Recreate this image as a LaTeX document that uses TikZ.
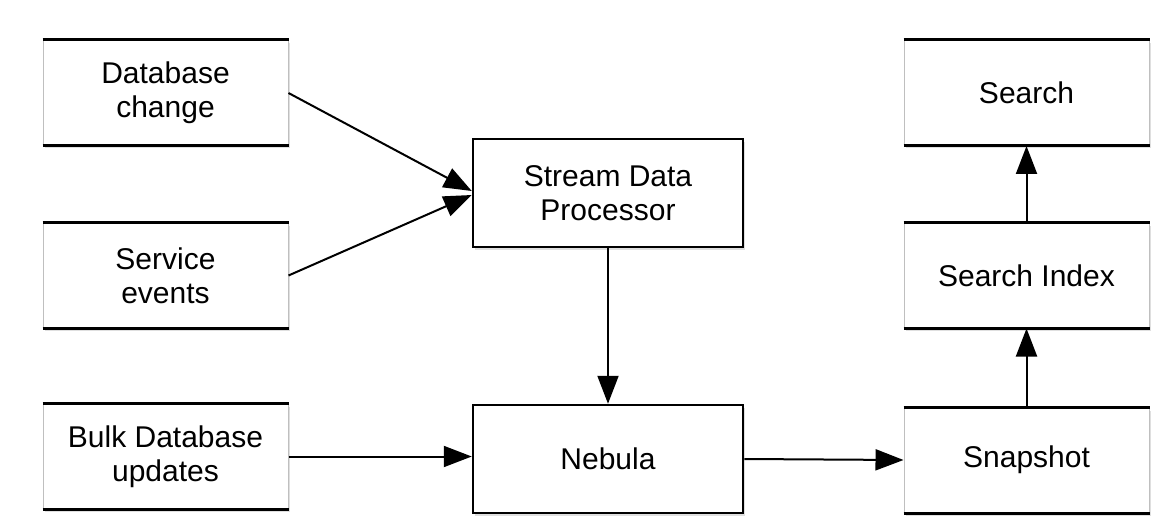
\documentclass[tikz,border=0pt]{standalone}
\usepackage{fontspec}
\setmainfont{Liberation Sans}
\usetikzlibrary{arrows.meta,shadows}
\begin{document}
\begin{tikzpicture}[x=0.5pt, y=-0.5pt,
    >={Triangle[length=14pt, width=10.5pt]},
    main node/.style={rectangle, draw, line width=1.25pt, fill=white, minimum width=135pt, minimum height=54pt, align=center,
      drop shadow={shadow xshift=1pt, shadow yshift=-1.5pt, opacity=0.25}},
    store node/.style={rectangle, draw=black!25, line width=0.5pt, fill=white, minimum width=122.5pt, minimum height=52.5pt, align=center,
      drop shadow={shadow xshift=1pt, shadow yshift=-1.5pt, opacity=0.25}}]
        \tikzstyle{every node}=[font=\fontsize{15}{17}\selectfont]
        \useasboundingbox (0,0) rectangle (1160,523);

          % sources
          \node[store node] (db) at (165.5,93) {Database\\change};
          \node[store node] (svc) at (165.5,275.5) {Service\\events};
          \node[store node] (bulk) at (165.5,456.5) {Bulk Database\\updates};

          % processing
          \node[main node] (sdp) at (608,193) {Stream Data\\Processor};
          \node[main node] (neb) at (608,459) {Nebula};

          % outputs
          \node[store node] (srch) at (1026.5,93) {Search};
          \node[store node] (idx) at (1026.5,275.5) {Search Index};
          \node[store node] (snap) at (1026.5,460) {Snapshot};

          \foreach \n in {db,svc,bulk,srch,idx,snap}
            \draw[line width=1.5pt] (\n.north west) -- (\n.north east)
                                    (\n.south west) -- (\n.south east);

          \path[->, line width=1pt]
            (db.east) edge ([yshift=1pt]sdp.west)
            (svc.east) edge ([yshift=-1pt]sdp.west)
            (bulk.east) edge (bulk.east -| neb.west)
            (sdp) edge (neb)
            (neb.east) edge (snap.west)
            (snap) edge (idx)
            (idx) edge (srch);

\end{tikzpicture}
\end{document}
